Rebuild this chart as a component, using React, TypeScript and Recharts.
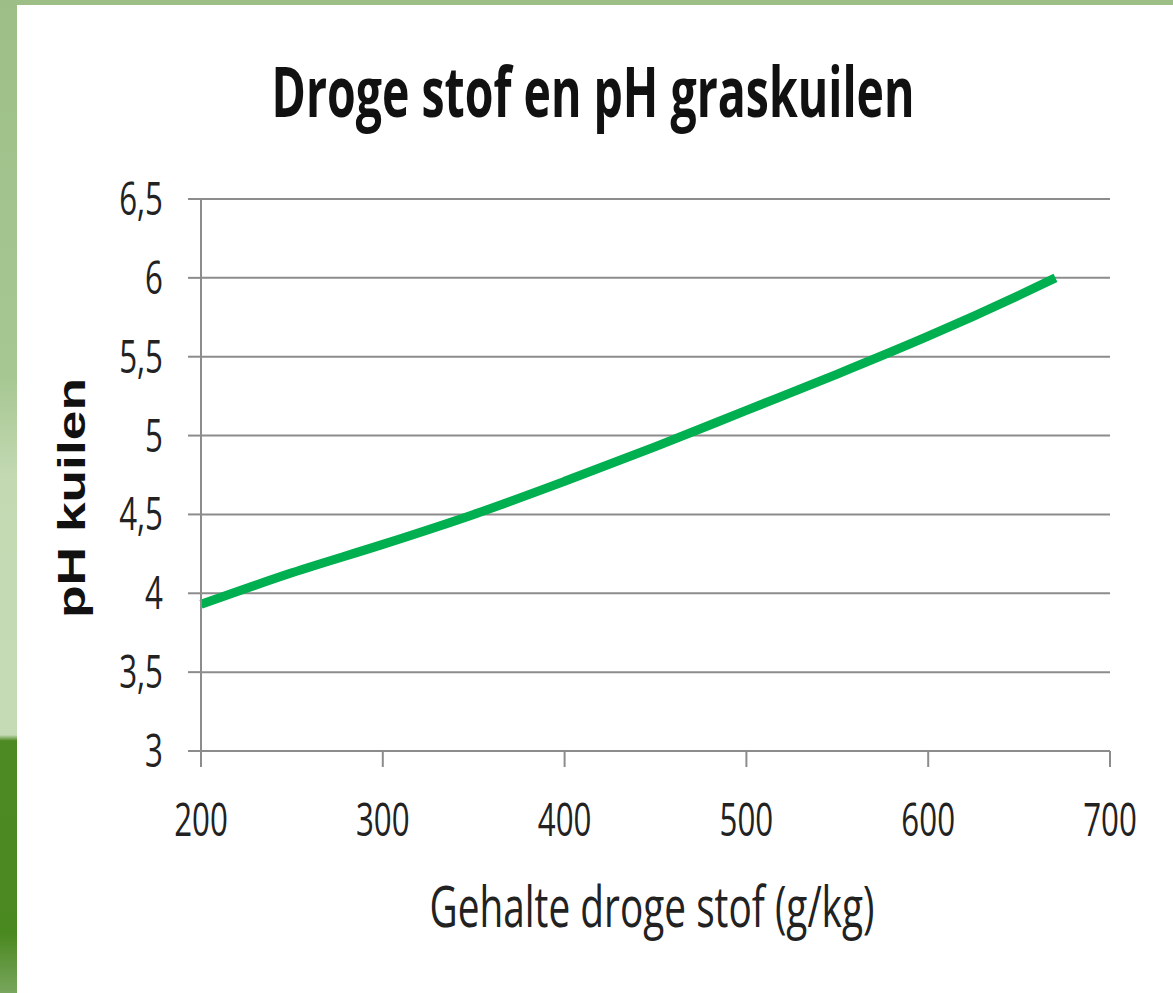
import { LineChart, Line, XAxis, YAxis, CartesianGrid } from 'recharts';

// dry matter content (g/kg) and pH of the silage
const drogeStof = [200, 250, 300, 350, 400, 450, 500, 550, 600, 650, 670];
const phKuilen = [3.93, 4.13, 4.31, 4.5, 4.71, 4.93, 5.16, 5.39, 5.63, 5.89, 6.0];

const xTicks = [200, 300, 400, 500, 600, 700];
const yTicks = [3, 3.5, 4, 4.5, 5, 5.5, 6, 6.5];

const title = 'Droge stof en pH graskuilen';
const xTitle = 'Gehalte droge stof (g/kg)';
const yTitle = 'pH kuilen';

const data = drogeStof.map((x, i) => ({ x, ph: phKuilen[i] }));

const tickFont = '"Open Sans", sans-serif';

const XTick = ({ x, y, payload }: any) => (
  <g transform={`translate(${x},${y})`}>
    <text transform="scale(0.68,1)" textAnchor="middle" y={69} fontSize={46} fontFamily={tickFont} fill="#222">
      {payload.value}
    </text>
  </g>
);

const YTick = ({ x, y, payload }: any) => (
  <g transform={`translate(${x},${y})`}>
    <text transform="scale(0.68,1)" textAnchor="end" y={16} fontSize={46} fontFamily={tickFont} fill="#222">
      {String(payload.value).replace('.', ',')}
    </text>
  </g>
);

export default function App() {
  return (
    <div
      style={{
        position: 'absolute', left: 0, top: 0, width: 1173, height: 993,
        background:
          'linear-gradient(to bottom, #9dbf87 0%, #a6c792 38%, #c3d9b2 48%, #c5dbb5 74%, #4e8a24 74.6%, #4a8820 94%, #78a65c 100%)',
        overflow: 'hidden',
      }}
    >
      <div style={{ position: 'absolute', left: 0, top: 0, width: 1173, height: 5, background: '#9dbf87' }} />
      <div style={{ position: 'absolute', left: 17, top: 5, width: 1156, height: 988, background: '#fff' }}>
        <LineChart width={1156} height={988} data={data} margin={{ top: 194, right: 63, bottom: 142, left: 64 }}>
          <CartesianGrid vertical={false} stroke="#8c8c8c" strokeWidth={2} />
          <XAxis
            dataKey="x"
            type="number"
            domain={[200, 700]}
            ticks={xTicks}
            height={100}
            stroke="#8c8c8c"
            strokeWidth={2}
            tickSize={16}
            tickMargin={0}
            tick={<XTick />}
          />
          <YAxis
            type="number"
            domain={[3, 6.5]}
            ticks={yTicks}
            width={120}
            stroke="#8c8c8c"
            strokeWidth={2}
            tickSize={13}
            tickMargin={25}
            tick={<YTick />}
          />
          <Line
            type="monotone"
            dataKey="ph"
            stroke="#00b050"
            strokeWidth={9}
            dot={false}
            isAnimationActive={false}
          />
        </LineChart>
      </div>
      <svg width={1173} height={993} style={{ position: 'absolute', left: 0, top: 0, pointerEvents: 'none' }}>
        <text
          transform="translate(593,117) scale(1,1.5)"
          textAnchor="middle"
          fontSize={47}
          fontWeight="bold"
          fontFamily={tickFont}
          fill="#111"
          textLength={643}
          lengthAdjust="spacingAndGlyphs"
        >
          {title}
        </text>
        <text x={652} y={927} textAnchor="middle" fontSize={56} fontFamily={tickFont} fill="#222" textLength={445} lengthAdjust="spacingAndGlyphs">
          {xTitle}
        </text>
        <text
          transform="translate(85,498) rotate(-90)"
          textAnchor="middle"
          fontSize={38}
          fontWeight="bold"
          fontFamily='"Liberation Sans", Arial, sans-serif'
          fill="#111"
          textLength={240}
          lengthAdjust="spacingAndGlyphs"
        >
          {yTitle}
        </text>
      </svg>
    </div>
  );
}
